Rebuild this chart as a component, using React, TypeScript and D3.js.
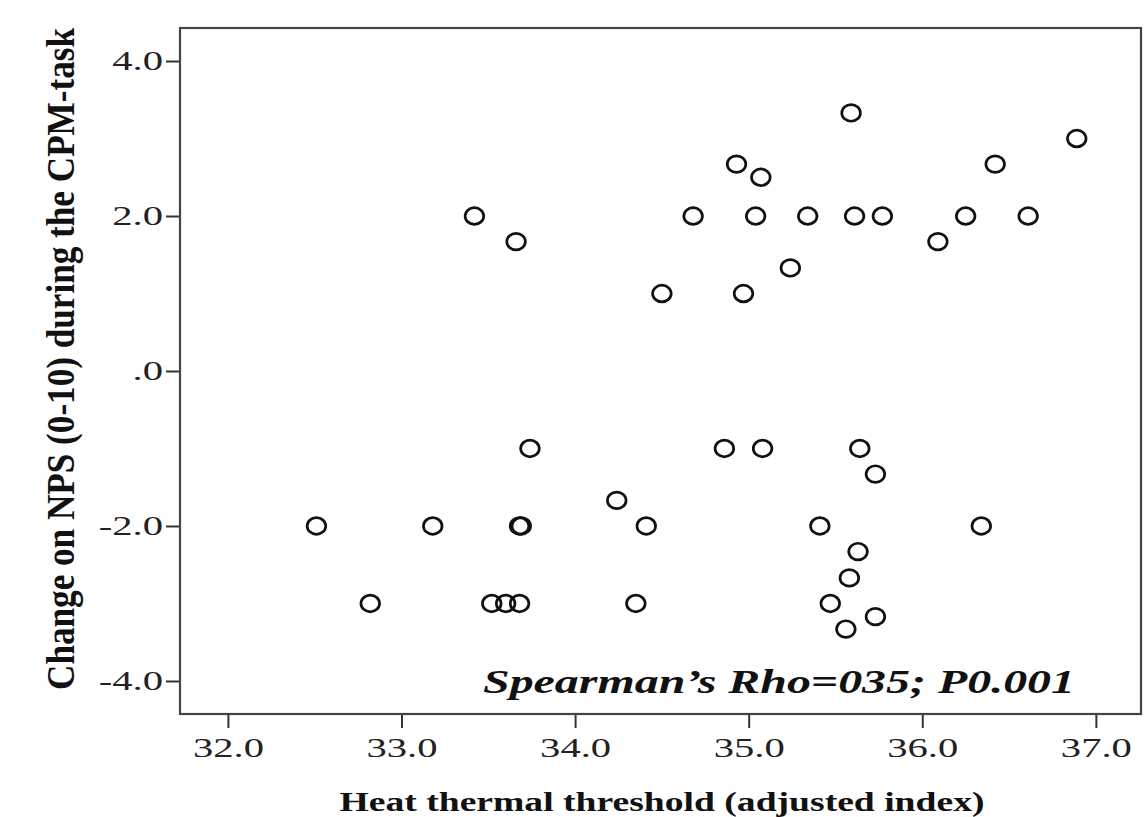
import React, { useEffect, useRef } from 'react';
import * as d3 from 'd3';

// heat thermal threshold (adjusted index)
const thresholds = [
  35.59, 36.89, 36.42, 34.93, 35.07,
  33.42, 34.68, 35.04, 35.34, 35.61, 35.77, 36.25, 36.61,
  36.09, 33.66, 35.24, 34.50, 34.97,
  33.74, 34.86, 35.08, 35.64, 35.73, 34.24,
  32.51, 33.18, 33.68, 33.69, 34.41, 35.41, 36.34,
  35.63, 35.58,
  32.82, 33.52, 33.60, 33.68, 34.35, 35.47, 35.73, 35.56,
];
// change on NPS (0-10)
const npsChange = [
  3.33, 3.0, 2.67, 2.67, 2.5,
  2, 2, 2, 2, 2, 2, 2, 2,
  1.67, 1.67, 1.33, 1, 1,
  -1, -1, -1, -1, -1.33, -1.67,
  -2, -2, -2, -2, -2, -2, -2,
  -2.33, -2.67,
  -3, -3, -3, -3, -3, -3, -3.17, -3.33,
];

const xTicks = [32, 33, 34, 35, 36, 37];
const xTickLabels = ['32.0', '33.0', '34.0', '35.0', '36.0', '37.0'];
const yTicks = [-4, -2, 0, 2, 4];
const yTickLabels = ['-4.0', '-2.0', '.0', '2.0', '4.0'];

const xTitle = 'Heat thermal threshold (adjusted index)';
const yTitle = 'Change on NPS (0-10) during the CPM-task';
const note = 'Spearman\u2019s Rho=035; P0.001';

const W = 1144;
const H = 817;
const margin = { top: 28, right: 3, bottom: 103, left: 180 };
const font = '"Liberation Serif", "Times New Roman", serif';
// the original picture is stretched sideways
const stretch = 1.45;

const widen = (sel: any, k: number) => {
  sel.each(function (this: SVGTextElement) {
    const len = this.getComputedTextLength();
    d3.select(this).attr('textLength', len * k).attr('lengthAdjust', 'spacingAndGlyphs');
  });
};

const App = () => {
  const ref = useRef<SVGSVGElement | null>(null);

  useEffect(() => {
    if (!ref.current) return;
    const svg = d3.select(ref.current);
    svg.selectAll('*').remove();

    const width = W - margin.left - margin.right;
    const height = H - margin.top - margin.bottom;

    const x = d3.scaleLinear().domain([31.724, 37.26]).range([0, width]);
    const y = d3.scaleLinear().domain([-4.426, 4.426]).range([height, 0]);

    const g = svg.append('g').attr('transform', `translate(${margin.left},${margin.top})`);

    // x axis
    const xAxis = g.append('g')
      .attr('transform', `translate(0,${height})`)
      .call(d3.axisBottom(x).tickValues(xTicks).tickFormat((d, i) => xTickLabels[i]).tickSize(14).tickPadding(9));
    // y axis
    const yAxis = g.append('g')
      .call(d3.axisLeft(y).tickValues(yTicks).tickFormat((d, i) => yTickLabels[i]).tickSize(14).tickPadding(3));

    [xAxis, yAxis].forEach(a => {
      a.select('.domain').remove();
      a.selectAll('line').attr('stroke', '#333').attr('stroke-width', 2);
      const t = a.selectAll('text')
        .attr('font-family', font)
        .attr('font-size', 28)
        .attr('fill', '#222');
      widen(t, stretch);
    });

    // frame
    g.append('rect')
      .attr('x', 0).attr('y', 0)
      .attr('width', width).attr('height', height)
      .attr('fill', 'none')
      .attr('stroke', '#444')
      .attr('stroke-width', 2.2);

    // points
    g.selectAll('ellipse.pt')
      .data(thresholds.map((t, i) => [t, npsChange[i]]))
      .join('ellipse')
      .attr('class', 'pt')
      .attr('cx', d => x(d[0]))
      .attr('cy', d => y(d[1]))
      .attr('rx', 9.3)
      .attr('ry', 8.3)
      .attr('fill', 'none')
      .attr('stroke', '#111')
      .attr('stroke-width', 2.7);

    // annotation
    g.append('text')
      .attr('x', 303)
      .attr('y', 665)
      .attr('font-family', font)
      .attr('font-size', 33)
      .attr('font-weight', 'bold')
      .attr('font-style', 'italic')
      .attr('fill', '#111')
      .attr('textLength', 592)
      .attr('lengthAdjust', 'spacingAndGlyphs')
      .text(note);

    // axis titles
    svg.append('text')
      .attr('x', 662)
      .attr('y', 811)
      .attr('text-anchor', 'middle')
      .attr('font-family', font)
      .attr('font-size', 28)
      .attr('font-weight', 'bold')
      .attr('fill', '#111')
      .attr('textLength', 645)
      .attr('lengthAdjust', 'spacingAndGlyphs')
      .text(xTitle);

    svg.append('text')
      .attr('transform', `translate(74,359) scale(1.4,1) rotate(-90)`)
      .attr('text-anchor', 'middle')
      .attr('font-family', font)
      .attr('font-size', 28)
      .attr('font-weight', 'bold')
      .attr('fill', '#111')
      .attr('textLength', 662)
      .attr('lengthAdjust', 'spacingAndGlyphs')
      .text(yTitle);
  }, []);

  return (
    <svg
      ref={ref}
      width={W}
      height={H}
      style={{ position: 'absolute', left: 0, top: 0, background: '#fff' }}
    />
  );
};

export default App;
